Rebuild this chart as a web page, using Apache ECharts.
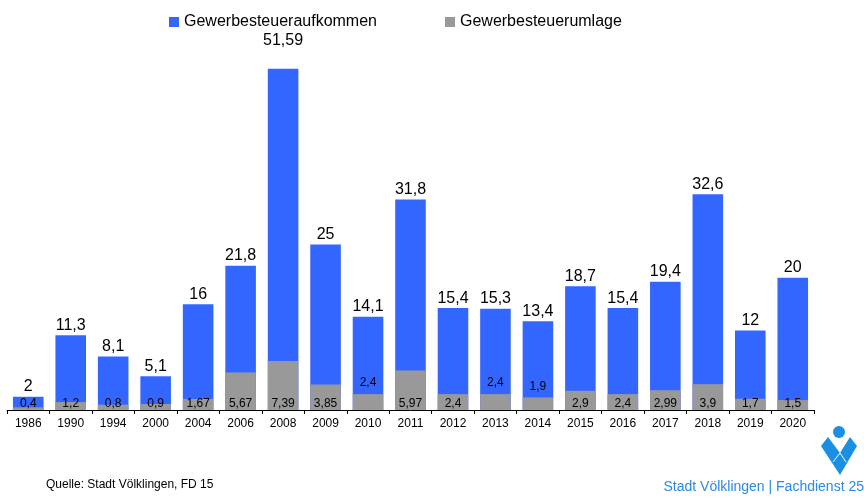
<!DOCTYPE html>
<html>
<head>
<meta charset="utf-8">
<script src="https://cdn.jsdelivr.net/npm/echarts@6/dist/echarts.min.js"></script>
<style>
  html, body { margin: 0; padding: 0; background: #fff; }
  #chart { width: 864px; height: 499px; }
</style>
</head>
<body>
<div id="chart"></div>
<script>
  // Gewerbesteuer Völklingen, Mio. €
  const years = ['1986', '1990', '1994', '2000', '2004', '2006', '2008', '2009', '2010', '2011',
    '2012', '2013', '2014', '2015', '2016', '2017', '2018', '2019', '2020']
  const aufkommen = [2, 11.3, 8.1, 5.1, 16, 21.8, 51.59, 25, 14.1, 31.8,
    15.4, 15.3, 13.4, 18.7, 15.4, 19.4, 32.6, 12, 20]
  const umlage = [0.4, 1.2, 0.8, 0.9, 1.67, 5.67, 7.39, 3.85, 2.4, 5.97,
    2.4, 2.4, 1.9, 2.9, 2.4, 2.99, 3.9, 1.7, 1.5]
  // Jahre, bei denen die Umlage-Beschriftung über dem grauen Balken steht
  const labelAbove = ['2010', '2013', '2014']
  // Jahr mit abgesetzter Beschriftung
  const labelRaised = ['2008']

  const fmt = v => String(v).replace('.', ',')
  const font = 'Liberation Sans, Arial, sans-serif'

  const myChart = echarts.init(document.getElementById('chart'))

  const aufkommenData = aufkommen.map((v, i) => {
    if (labelRaised.indexOf(years[i]) >= 0) {
      return { value: v, label: { distance: 20 } }
    }
    return v
  })

  const umlageData = umlage.map((v, i) => {
    if (labelAbove.indexOf(years[i]) >= 0) {
      return { value: v, label: { position: 'top', distance: 5 } }
    }
    return v
  })

  myChart.setOption({
    animation: false,
    textStyle: { fontFamily: font },
    legend: {
      data: ['Gewerbesteueraufkommen', 'Gewerbesteuerumlage'],
      left: 164,
      top: 9,
      itemWidth: 10,
      itemHeight: 10,
      itemGap: 68,
      icon: 'rect',
      textStyle: { fontSize: 16, color: '#000', fontFamily: font }
    },
    grid: { left: 7, right: 50, top: 13, bottom: 89, containLabel: false },
    xAxis: {
      type: 'category',
      data: years,
      axisLine: { lineStyle: { color: '#000', width: 1 } },
      axisTick: { show: true, length: 4, lineStyle: { color: '#000' } },
      axisLabel: { color: '#000', fontSize: 12, margin: 8, interval: 0 }
    },
    yAxis: {
      type: 'value',
      min: 0,
      max: 60,
      show: false,
      splitLine: { show: false }
    },
    series: [
      {
        name: 'Gewerbesteueraufkommen',
        type: 'bar',
        data: aufkommenData,
        barCategoryGap: '28%',
        itemStyle: { color: '#3366ff' },
        label: {
          show: true,
          position: 'top',
          distance: 2,
          fontSize: 16,
          color: '#000',
          formatter: p => fmt(p.value)
        }
      },
      {
        name: 'Gewerbesteuerumlage',
        type: 'bar',
        data: umlageData,
        barGap: '-100%',
        barCategoryGap: '28%',
        itemStyle: { color: '#999999' },
        label: {
          show: true,
          position: 'insideBottom',
          distance: 0,
          fontSize: 12,
          color: '#000',
          formatter: p => fmt(p.value)
        },
        z: 3
      }
    ],
    graphic: [
      {
        type: 'text',
        left: 46,
        top: 479,
        style: { text: 'Quelle: Stadt Völklingen, FD 15', fontSize: 12, fill: '#000',
          fontFamily: 'Liberation Sans Narrow, Liberation Sans, Arial' }
      },
      {
        type: 'text',
        right: 0,
        top: 480,
        style: { text: 'Stadt Völklingen | Fachdienst 25', fontSize: 14, fill: '#2a8ae6',
          fontFamily: 'Liberation Sans Narrow, Liberation Sans, Arial' }
      },
      // Logo
      {
        type: 'circle',
        shape: { cx: 839, cy: 432, r: 6 },
        style: { fill: '#1a8fe3' }
      },
      {
        type: 'polygon',
        shape: { points: [[821, 446], [828, 437], [840, 453], [850, 437], [857, 446], [840, 475]] },
        style: { fill: '#1a8fe3' }
      },
      {
        type: 'polyline',
        shape: { points: [[833, 462], [840, 453], [846, 462]] },
        style: { stroke: '#fff', lineWidth: 1, fill: null }
      }
    ]
  })
</script>
</body>
</html>
